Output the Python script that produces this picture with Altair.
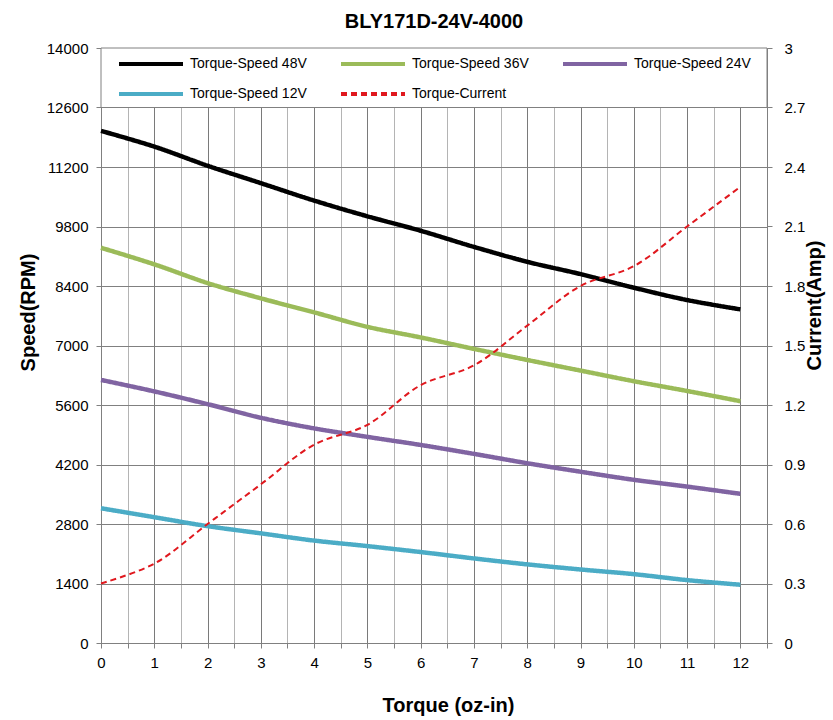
import altair as alt
import pandas as pd

# ---------------- data ----------------
torque = [0, 1, 2, 3, 4, 5, 6, 7, 8, 9, 10, 11, 12]
speed_48v = [12050, 11680, 11230, 10820, 10410, 10040, 9700, 9320, 8970, 8680, 8360, 8070, 7850]
speed_36v = [9300, 8910, 8470, 8110, 7780, 7440, 7190, 6920, 6660, 6410, 6160, 5930, 5690]
speed_24v = [6190, 5920, 5620, 5300, 5050, 4850, 4660, 4450, 4230, 4030, 3840, 3680, 3510]
speed_12v = [3170, 2960, 2750, 2580, 2410, 2280, 2140, 1990, 1850, 1730, 1620, 1480, 1370]
current_amp = [0.3, 0.4, 0.6, 0.8, 1.0, 1.1, 1.3, 1.4, 1.6, 1.8, 1.9, 2.1, 2.3]

series_names = ["Torque-Speed 48V", "Torque-Speed 36V", "Torque-Speed 24V",
                "Torque-Speed 12V", "Torque-Current"]
series_colors = ["#000000", "#9BBB59", "#8064A2", "#4BACC6", "#E0181E"]
series_dash = [[1, 0], [1, 0], [1, 0], [1, 0], [6, 4]]

speed_ticks = [0, 1400, 2800, 4200, 5600, 7000, 8400, 9800, 11200, 12600, 14000]
current_ticks = [0, 0.3, 0.6, 0.9, 1.2, 1.5, 1.8, 2.1, 2.4, 2.7, 3]
torque_grid = [0, 0.5, 1, 1.5, 2, 2.5, 3, 3.5, 4, 4.5, 5, 5.5, 6, 6.5, 7, 7.5,
               8, 8.5, 9, 9.5, 10, 10.5, 11, 11.5, 12, 12.5]
torque_domain = [0, 12.5]
speed_domain = [0, 14000]
current_domain = [0, 3]
legend_band = [12600, 14000]

# ---------------- tables ----------------
rows = []
for name, vals in zip(series_names[:4], [speed_48v, speed_36v, speed_24v, speed_12v]):
    for t, v in zip(torque, vals):
        rows.append({"torque": t, "speed": v, "series": name})
speed_df = pd.DataFrame(rows)
current_df = pd.DataFrame({"torque": torque, "current": current_amp,
                           "series": series_names[4]})
band_df = pd.DataFrame({"x0": [torque_domain[0]], "x1": [torque_domain[1]],
                        "y0": [legend_band[0]], "y1": [legend_band[1]]})

FONT = "Liberation Sans"
GRID = "#808080"

x_scale = alt.Scale(domain=torque_domain, nice=False, zero=False)
y_scale = alt.Scale(domain=speed_domain, nice=False)
c_scale = alt.Scale(domain=current_domain, nice=False)

x_axis = alt.Axis(
    values=torque_grid,
    labelExpr="datum.value % 1 == 0 && datum.value <= 12 ? '' + datum.value : ''",
    labelOverlap=False, labelFlush=False,
    title="Torque (oz-in)", titleFontSize=20, titleFontWeight="bold", titleFont=FONT,
    titleColor="#000", titlePadding=25, titleX=347,
    labelFontSize=15, labelFont=FONT, labelColor="#000", labelPadding=7,
    grid=True, gridWidth=1,
    gridColor={"condition": {"test": "datum.value % 1 == 0", "value": "#7a7a7a"},
               "value": "#b4b4b4"},
    tickSize=5, tickColor=GRID, domainColor=GRID,
)
left_axis = alt.Axis(
    values=speed_ticks, format="d",
    title="Speed(RPM)", titleFontSize=20, titleFontWeight="bold", titleFont=FONT,
    titleColor="#000", titlePadding=8, titleY=264,
    labelFontSize=15, labelFont=FONT, labelColor="#000", labelPadding=8,
    grid=True, gridColor=GRID, gridWidth=1,
    tickSize=5, tickColor=GRID, domainColor=GRID,
)
right_axis = alt.Axis(
    orient="right", values=current_ticks, format="~g",
    title="Current(Amp)", titleFontSize=20, titleFontWeight="bold", titleFont=FONT,
    titleColor="#000", titlePadding=0, titleAngle=270, titleBaseline="top", titleY=257,
    labelFontSize=15, labelFont=FONT, labelColor="#000", labelPadding=12,
    grid=False, tickSize=5, tickColor=GRID, domainColor=GRID,
)

legend = alt.Legend(
    title=None, orient="none", legendX=18, legendY=9, columns=3, direction="horizontal",
    columnPadding=26, rowPadding=14, padding=0,
    symbolType="M-6.4,0L6.4,0", symbolSize=100, symbolStrokeWidth=4,
    symbolOffset=25, labelOffset=32,
    labelFontSize=14, labelFont=FONT, labelColor="#000",
)

color = alt.Color("series:N", scale=alt.Scale(domain=series_names, range=series_colors),
                  legend=legend)
dash = alt.StrokeDash("series:N", scale=alt.Scale(domain=series_names, range=series_dash),
                      legend=legend)

band = alt.Chart(band_df).mark_rect(fill="white", stroke=GRID, strokeWidth=1).encode(
    x=alt.X("x0:Q", scale=x_scale, axis=x_axis),
    x2="x1:Q",
    y=alt.Y("y0:Q", scale=y_scale, axis=left_axis),
    y2="y1:Q",
)

speed_lines = alt.Chart(speed_df).mark_line(strokeWidth=4.5, interpolate="catmull-rom").encode(
    x=alt.X("torque:Q", scale=x_scale, axis=x_axis),
    y=alt.Y("speed:Q", scale=y_scale, axis=left_axis),
    color=color,
    strokeDash=dash,
)

current_line = alt.Chart(current_df).mark_line(strokeWidth=2, interpolate="catmull-rom").encode(
    x=alt.X("torque:Q", scale=x_scale, axis=x_axis),
    y=alt.Y("current:Q", scale=c_scale, axis=right_axis),
    color=color,
    strokeDash=dash,
)

chart = alt.layer(alt.layer(band, speed_lines), current_line).resolve_scale(
    y="independent"
).properties(
    width=666, height=595,
    title=alt.TitleParams(text="BLY171D-24V-4000", fontSize=20, fontWeight="bold",
                          font=FONT, color="#000", anchor="middle", offset=9),
    autosize=alt.AutoSizeParams(type="none"),
    padding={"left": 101, "top": 48, "right": 66, "bottom": 77},
).configure(font=FONT, background="white").configure_view(stroke=None)

chart.save("out.html", embed_options={"renderer": "svg", "actions": False})
